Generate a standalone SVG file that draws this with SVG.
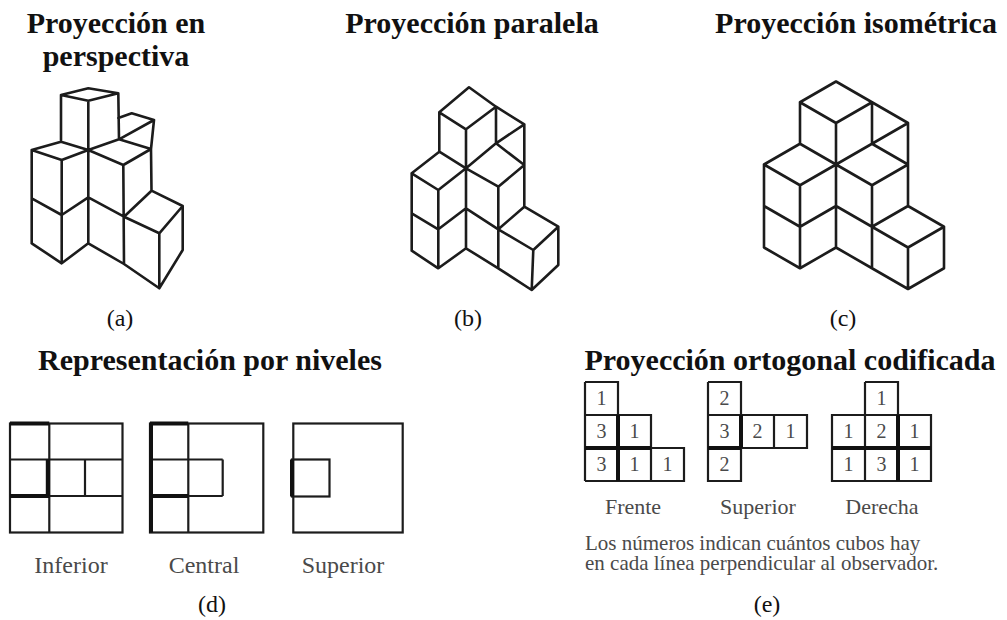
<svg xmlns="http://www.w3.org/2000/svg" width="1007" height="620" viewBox="0 0 1007 620">
  <defs>
    <style>
      .title { font-family: "Liberation Serif", "Times New Roman", serif; font-weight: bold; font-size: 30px; fill: #111; text-anchor: middle; }
      .tag { font-family: "Liberation Serif", "Times New Roman", serif; font-size: 24px; fill: #111; text-anchor: middle; }
      .lvl { font-family: "Liberation Serif", "Times New Roman", serif; font-size: 24px; fill: #4a4a4a; text-anchor: middle; }
      .cap { font-family: "Liberation Serif", "Times New Roman", serif; font-size: 22px; fill: #4a4a4a; text-anchor: middle; }
      .num { font-family: "Liberation Serif", "Times New Roman", serif; font-size: 20px; fill: #4a4a4a; text-anchor: middle; }
      .note { font-family: "Liberation Serif", "Times New Roman", serif; font-size: 21px; fill: #4a4a4a; }
      .edge { fill: none; stroke: #1c1c1c; stroke-width: 2.6; stroke-linejoin: round; stroke-linecap: round; }
      .grid { fill: none; stroke: #1c1c1c; stroke-width: 2.2; }
      .bold { fill: none; stroke: #111; stroke-width: 4; }
    </style>
  </defs>

  <rect width="1007" height="620" fill="#fff"/>

  <!-- headings -->
  <g id="titles">
    <text class="title" x="116" y="33">Proyección en</text>
    <text class="title" x="116" y="66">perspectiva</text>
    <text class="title" x="472" y="33">Proyección paralela</text>
    <text class="title" x="856" y="33">Proyección isométrica</text>
    <text class="title" x="210" y="370">Representación por niveles</text>
    <text class="title" x="790" y="370">Proyección ortogonal codificada</text>
  </g>

  <!-- (a) perspective view -->
  <g id="perspectiva">
    <path class="edge" d="M61,95 L88.3,88.3 L118.3,93.3 M61,95 L88.3,100.7 L118.3,93.3
      M61,95 L61,141.7 M88.3,100.7 L88.3,243.3 M118.3,93.3 L119,139.3
      M118.3,118 L131.7,113.3 L154,120 L151,149 L151.5,190.7 M119,139.3 L154,120
      M31.7,150 L61,141.7 L88.3,150 L119,139.3 L151,149
      M31.7,150 L61.7,160 L88.3,150 L123.3,165 L151,149
      M31.7,150 L31.7,243.3 M61.7,160 L61.7,263.3 M123.3,165 L124,264
      M31.7,198.3 L61.7,215 L88.3,197.3 L124,216.7 L151.5,190.7 L182.7,206 L182.7,250 L159.3,288.3 L124,264
      M124,216.7 L159.3,233.3 L182.7,206 M159.3,233.3 L159.3,288.3
      M31.7,243.3 L61.7,263.3 L88.3,243.3 L124,264"/>
    <text class="tag" x="120" y="326">(a)</text>
  </g>

  <!-- (b) parallel view -->
  <g id="paralela">
    <path class="edge" d="M439.3,112.3 L469,87.3 L496,106.7 L524.3,124.3 L524.3,206.7
      M439.3,112.3 L466,129.3 L496,106.7
      M439.3,112.3 L439.3,151.7 M466,129.3 L466,248.3 M496,106.7 L496,143.3 M496,143.3 L524.3,124.3
      M411.7,173.3 L439.3,151.7 L466,168.3 L496,143.3 L524.3,165
      M411.7,173.3 L438.3,190 L466,168.3 L498.3,186.7 L524.3,165
      M411.7,173.3 L411.7,250.7 M438.3,190 L438.3,268.3 M498.3,186.7 L498.3,268.3
      M411.7,213.3 L438.3,229.3 L466,208.3 L498.3,229.3 L524.3,206.7 L558.3,226.7 L558.3,265 L531.7,290 L498.3,268.3
      M498.3,229.3 L533.3,250 L558.3,226.7 M533.3,250 L531.7,290
      M411.7,250.7 L438.3,268.3 L466,248.3 L498.3,268.3"/>
    <text class="tag" x="468" y="326">(b)</text>
  </g>

  <!-- (c) isometric view -->
  <g id="isometrica">
    <path class="edge" d="M800,102.25 L836,81.5 L872,102.25 L908,123 L908,206
      M800,102.25 L836,123 L872,102.25
      M800,102.25 L800,143.75 M836,123 L836,247.5 M872,102.25 L872,143.75 M872,143.75 L908,123
      M764,164.5 L800,143.75 L836,164.5 L872,143.75 L908,164.5
      M764,164.5 L800,185.25 L836,164.5 L872,185.25 L908,164.5
      M764,164.5 L764,247.5 M800,185.25 L800,268.25 M872,185.25 L872,268.25
      M764,206 L800,226.75 L836,206 L872,226.75 L908,206 L944,226.75 L944,268.25 L908,289 L872,268.25
      M872,226.75 L908,247.5 L944,226.75 M908,247.5 L908,289
      M764,247.5 L800,268.25 L836,247.5 L872,268.25"/>
    <text class="tag" x="843" y="326">(c)</text>
  </g>

  <!-- (d) level plans -->
  <g id="niveles">
    <g id="inferior">
      <rect class="grid" x="10" y="423.5" width="112.5" height="109"/>
      <path class="grid" d="M49.3,423.5 V532.5 M10,459.5 H122.5 M10,496 H122.5 M85,459.5 V496"/>
      <path class="bold" d="M10,423.5 H49.3 M47.8,459.5 V496 M10,496 H49.3"/>
      <text class="lvl" x="71" y="573">Inferior</text>
    </g>
    <g id="central">
      <rect class="grid" x="150" y="423.5" width="113.3" height="109"/>
      <path class="grid" d="M188.3,423.5 V532.5 M150,459.5 H222.7 M150,496 H222.7 M222.7,459.5 V496"/>
      <path class="bold" d="M150,423.5 H188.3 M151,423.5 V532.5 M150,496 H188.3"/>
      <text class="lvl" x="204" y="573">Central</text>
    </g>
    <g id="superior-nivel">
      <rect class="grid" x="293.3" y="423.5" width="109.4" height="109"/>
      <rect class="grid" x="292" y="459.5" width="37.5" height="37"/>
      <path class="bold" d="M292,459.5 V496.5"/>
      <text class="lvl" x="343" y="573">Superior</text>
    </g>
    <text class="tag" x="212" y="612">(d)</text>
  </g>

  <!-- (e) coded orthogonal views -->
  <g id="ortogonal">
    <g id="frente">
      <path class="grid" d="M585,382 H618 V481 M585,382 V481 M585,415 H651 V481 M585,481 H684 V448 H651 M618,448 V481 M585,448 H651"/>
      <path class="bold" d="M585,448 H651 M618,415 V481"/>
      <text class="num" x="601.5" y="405">1</text>
      <text class="num" x="601.5" y="438">3</text>
      <text class="num" x="634.5" y="438">1</text>
      <text class="num" x="601.5" y="471">3</text>
      <text class="num" x="634.5" y="471">1</text>
      <text class="num" x="667.5" y="471">1</text>
      <text class="cap" x="633" y="514">Frente</text>
    </g>
    <g id="superior-vista">
      <path class="grid" d="M708,382 H741 V415 M708,382 V481 H741 V415 M708,415 H807 V448 H708 M774,415 V448"/>
      <path class="bold" d="M741,415 V448 M708,448 H741"/>
      <text class="num" x="724.5" y="405">2</text>
      <text class="num" x="724.5" y="438">3</text>
      <text class="num" x="757.5" y="438">2</text>
      <text class="num" x="790.5" y="438">1</text>
      <text class="num" x="724.5" y="471">2</text>
      <text class="cap" x="758" y="514">Superior</text>
    </g>
    <g id="derecha">
      <path class="grid" d="M865,382 H898 V415 M865,382 V481 M832,415 H931 V481 H832 Z M898,415 V481"/>
      <path class="bold" d="M832,448 H931 M898,415 V481"/>
      <text class="num" x="881.5" y="405">1</text>
      <text class="num" x="848.5" y="438">1</text>
      <text class="num" x="881.5" y="438">2</text>
      <text class="num" x="914.5" y="438">1</text>
      <text class="num" x="848.5" y="471">1</text>
      <text class="num" x="881.5" y="471">3</text>
      <text class="num" x="914.5" y="471">1</text>
      <text class="cap" x="882" y="514">Derecha</text>
    </g>
    <text class="note" x="585" y="550">Los números indican cuántos cubos hay</text>
    <text class="note" x="585" y="570">en cada línea perpendicular al observador.</text>
    <text class="tag" x="767" y="612">(e)</text>
  </g>
</svg>
